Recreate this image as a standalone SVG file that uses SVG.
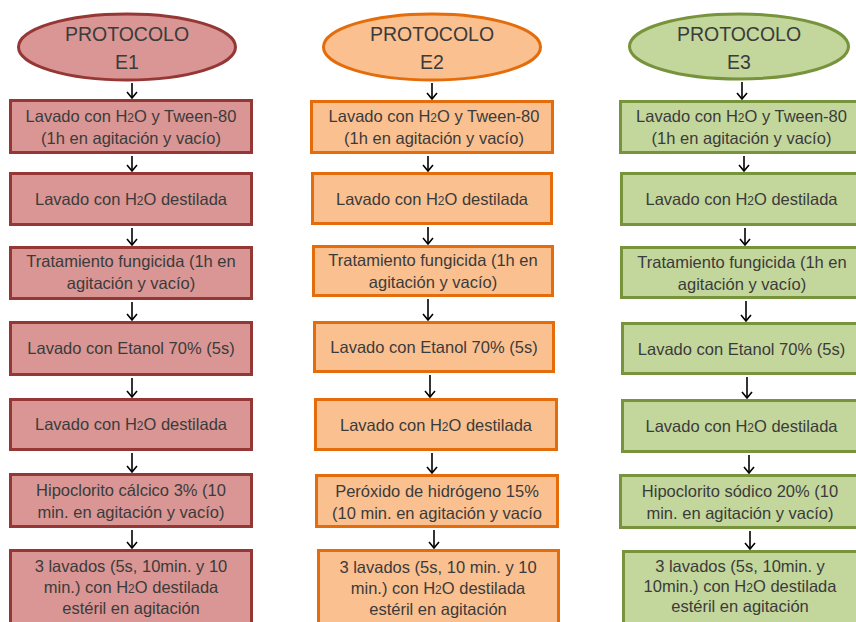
<svg xmlns="http://www.w3.org/2000/svg" width="856" height="622" viewBox="0 0 856 622">
<defs>
<style>
.t{font-family:"Liberation Sans",Arial,sans-serif;font-size:16.5px;fill:#3b3b3b;text-anchor:middle}
.h{font-family:"Liberation Sans",Arial,sans-serif;font-size:19.5px;fill:#3b3b3b;text-anchor:middle}
.s{font-size:12px}
.c1{fill:#d99694;stroke:#953735;stroke-width:3}
.c2{fill:#fac090;stroke:#e46c0a;stroke-width:3}
.c3{fill:#c3d69b;stroke:#77933c;stroke-width:3}
.a{stroke:#000;stroke-width:1.6;fill:none;marker-end:url(#ah)}
</style>
<marker id="ah" markerUnits="userSpaceOnUse" markerWidth="10" markerHeight="12" refX="6" refY="5" orient="auto" overflow="visible">
<path d="M0,0 L6,5 L0,10" fill="none" stroke="#000" stroke-width="1.6"/>
</marker>
</defs>
<rect width="856" height="622" fill="#fff"/>

<g id="connectors">
<path class="a" d="M132,83 V98"/>
<path class="a" d="M132,156 V171"/>
<path class="a" d="M132,228 V245"/>
<path class="a" d="M132,302 V320"/>
<path class="a" d="M132,378 V397"/>
<path class="a" d="M132,453 V472"/>
<path class="a" d="M132,530 V548"/>

<path class="a" d="M432,83 V99"/>
<path class="a" d="M428,156 V171"/>
<path class="a" d="M428,227 V244"/>
<path class="a" d="M428,299 V320"/>
<path class="a" d="M430,375 V397"/>
<path class="a" d="M432,453 V473"/>
<path class="a" d="M434,530 V548"/>

<path class="a" d="M742,82 V99"/>
<path class="a" d="M744,156 V171"/>
<path class="a" d="M745,228 V245"/>
<path class="a" d="M746,301 V321"/>
<path class="a" d="M747,377 V398"/>
<path class="a" d="M749,455 V473"/>
<path class="a" d="M750,531 V549"/>
</g>

<!-- Column 1 -->
<g id="e1"><ellipse class="c1" cx="127" cy="47" rx="108.5" ry="33"/>
<text class="h" x="127" y="41">PROTOCOLO</text><text class="h" x="127" y="69">E1</text></g>
<g id="e1b1"><rect class="c1" x="10.5" y="100.5" width="241" height="52"/>
<text class="t" x="131" y="122">Lavado con H<tspan class="s">2</tspan>O y Tween-80</text>
<text class="t" x="131" y="144">(1h en agitación y vacío)</text></g>
<g id="e1b2"><rect class="c1" x="10.5" y="173.5" width="241" height="51"/>
<text class="t" x="131" y="205">Lavado con H<tspan class="s">2</tspan>O destilada</text></g>
<g id="e1b3"><rect class="c1" x="10.5" y="247.5" width="241" height="51"/>
<text class="t" x="131" y="267">Tratamiento fungicida (1h en</text>
<text class="t" x="131" y="289">agitación y vacío)</text></g>
<g id="e1b4"><rect class="c1" x="10.5" y="322.5" width="241" height="52"/>
<text class="t" x="131" y="354">Lavado con Etanol 70% (5s)</text></g>
<g id="e1b5"><rect class="c1" x="10.5" y="399.5" width="241" height="50"/>
<text class="t" x="131" y="430">Lavado con  H<tspan class="s">2</tspan>O destilada</text></g>
<g id="e1b6"><rect class="c1" x="10.5" y="474.5" width="241" height="52"/>
<text class="t" x="131" y="496">Hipoclorito cálcico 3% (10</text>
<text class="t" x="131" y="518">min. en agitación y vacío)</text></g>
<g id="e1b7"><rect class="c1" x="10.5" y="550.5" width="241" height="90"/>
<text class="t" x="131" y="572">3 lavados (5s, 10min. y 10</text>
<text class="t" x="131" y="593">min.) con H<tspan class="s">2</tspan>O destilada</text>
<text class="t" x="131" y="614">estéril en agitación</text></g>

<!-- Column 2 -->
<g id="e2"><ellipse class="c2" cx="432" cy="47" rx="108.5" ry="33"/>
<text class="h" x="432" y="41">PROTOCOLO</text><text class="h" x="432" y="69">E2</text></g>
<g id="e2b1"><rect class="c2" x="311.5" y="101.5" width="241" height="51"/>
<text class="t" x="434" y="122">Lavado con H<tspan class="s">2</tspan>O y Tween-80</text>
<text class="t" x="434" y="144">(1h en agitación y vacío)</text></g>
<g id="e2b2"><rect class="c2" x="312.5" y="173.5" width="239" height="50"/>
<text class="t" x="432" y="205">Lavado con H<tspan class="s">2</tspan>O destilada</text></g>
<g id="e2b3"><rect class="c2" x="313.5" y="246.5" width="239" height="49"/>
<text class="t" x="433" y="266">Tratamiento fungicida (1h en</text>
<text class="t" x="433" y="288">agitación y vacío)</text></g>
<g id="e2b4"><rect class="c2" x="314.5" y="322.5" width="239" height="49"/>
<text class="t" x="434" y="353">Lavado con Etanol 70% (5s)</text></g>
<g id="e2b5"><rect class="c2" x="315.5" y="399.5" width="241" height="50"/>
<text class="t" x="436" y="431">Lavado con H<tspan class="s">2</tspan>O destilada</text></g>
<g id="e2b6"><rect class="c2" x="316.5" y="475.5" width="241" height="51"/>
<text class="t" x="437" y="497">Peróxido de hidrógeno 15%</text>
<text class="t" x="437" y="519">(10 min. en agitación y vacío</text></g>
<g id="e2b7"><rect class="c2" x="318.5" y="550.5" width="240" height="90"/>
<text class="t" x="438" y="573">3 lavados (5s, 10 min. y 10</text>
<text class="t" x="438" y="594">min.) con H<tspan class="s">2</tspan>O destilada</text>
<text class="t" x="438" y="615">estéril en agitación</text></g>

<!-- Column 3 -->
<g id="e3"><ellipse class="c3" cx="739" cy="46.5" rx="109.5" ry="32.5"/>
<text class="h" x="739" y="41">PROTOCOLO</text><text class="h" x="739" y="69">E3</text></g>
<g id="e3b1"><rect class="c3" x="620.5" y="101.5" width="242" height="51"/>
<text class="t" x="741.5" y="122">Lavado con H<tspan class="s">2</tspan>O y Tween-80</text>
<text class="t" x="741.5" y="144">(1h en agitación y vacío)</text></g>
<g id="e3b2"><rect class="c3" x="621.5" y="173.5" width="242" height="51"/>
<text class="t" x="741.5" y="205">Lavado con H<tspan class="s">2</tspan>O destilada</text></g>
<g id="e3b3"><rect class="c3" x="621.5" y="247.5" width="242" height="50"/>
<text class="t" x="742" y="268">Tratamiento fungicida (1h en</text>
<text class="t" x="742" y="290">agitación y vacío)</text></g>
<g id="e3b4"><rect class="c3" x="622.5" y="323.5" width="242" height="50"/>
<text class="t" x="741.5" y="355">Lavado con Etanol 70% (5s)</text></g>
<g id="e3b5"><rect class="c3" x="622.5" y="400.5" width="242" height="51"/>
<text class="t" x="741.5" y="432">Lavado con H<tspan class="s">2</tspan>O destilada</text></g>
<g id="e3b6"><rect class="c3" x="620.5" y="475.5" width="242" height="52"/>
<text class="t" x="740" y="497">Hipoclorito sódico 20% (10</text>
<text class="t" x="740" y="519">min. en agitación y vacío)</text></g>
<g id="e3b7"><rect class="c3" x="623.5" y="551.5" width="242" height="90"/>
<text class="t" x="740" y="572">3 lavados (5s, 10min. y</text>
<text class="t" x="740" y="592">10min.) con H<tspan class="s">2</tspan>O destilada</text>
<text class="t" x="740" y="612">estéril en agitación</text></g>
</svg>
